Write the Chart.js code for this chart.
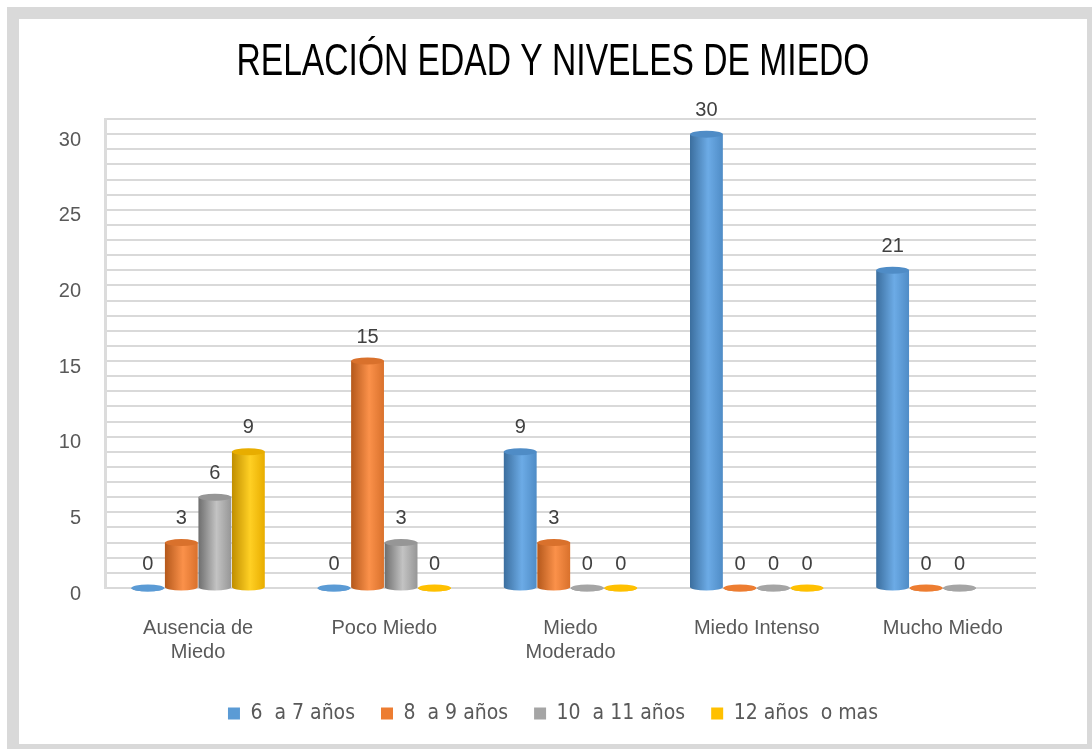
<!DOCTYPE html>
<html>
<head>
<meta charset="utf-8">
<script src="https://cdn.jsdelivr.net/npm/chart.js@4.4.0/dist/chart.umd.min.js"></script>
<style>
  html, body { margin: 0; padding: 0; background: #fff; }
  #frame { position: absolute; left: 7px; top: 7px; width: 1085px; height: 742px; background: #d9d9d9; }
  #box { position: absolute; left: 12px; top: 12px; width: 1068px; height: 725px; background: #fff; }
  canvas { display: block; }
</style>
</head>
<body>
<div id="frame"><div id="box"><canvas id="chart" width="1068" height="725"></canvas></div></div>
<script>
// datos
const categorias = [["Ausencia de", "Miedo"], "Poco Miedo", ["Miedo", "Moderado"], "Miedo Intenso", "Mucho Miedo"];
const edad6a7   = [0, 0, 9, 30, 21];
const edad8a9   = [3, 15, 3, 0, 0];
const edad10a11 = [6, 3, 0, 0, 0];
const edad12    = [9, 0, 0, 0, null];
const series = ["6  a 7 años", "8  a 9 años", "10  a 11 años", "12 años  o mas"];
const titulo = "RELACIÓN EDAD Y NIVELES DE MIEDO";

// colores del cilindro: [oscuro, claro, medio]
const tonos = [
  ["#3b6e9e", "#6cabe6", "#4f8cc6"],
  ["#b4581b", "#fb914a", "#d9712c"],
  ["#6e6e6e", "#c3c3c3", "#969696"],
  ["#c08e00", "#ffd024", "#e8ad00"]
];
const planos = ["#5b9bd5", "#ed7d31", "#a5a5a5", "#ffc000"];

const textoGris = "#595959";
const fuente = "'Liberation Sans', Arial, sans-serif";
const fuenteNarrow = "'Liberation Sans Narrow', 'DejaVu Sans Condensed', sans-serif";

// título estrecho (la fuente original es condensada)
const tituloAngosto = {
  id: 'tituloAngosto',
  afterDraw(chart) {
    const ctx = chart.ctx;
    ctx.save();
    ctx.font = "45px " + fuente;
    const w = ctx.measureText(titulo).width;
    ctx.translate(534, 56);
    ctx.scale(633 / w, 1);
    ctx.fillStyle = "#000";
    ctx.textAlign = "center";
    ctx.textBaseline = "alphabetic";
    ctx.fillText(titulo, 0, 0);
    ctx.restore();
  }
};

// degradado horizontal por barra + tapas + etiquetas
const cilindro = {
  id: 'cilindro',
  beforeDatasetsDraw(chart) {
    const ctx = chart.ctx;
    chart.data.datasets.forEach((ds, i) => {
      chart.getDatasetMeta(i).data.forEach(el => {
        const x0 = el.x - el.width / 2, x1 = el.x + el.width / 2;
        const g = ctx.createLinearGradient(x0, 0, x1, 0);
        g.addColorStop(0, tonos[i][0]);
        g.addColorStop(0.55, tonos[i][1]);
        g.addColorStop(1, tonos[i][2]);
        el.options.backgroundColor = g;
      });
    });
  },
  afterDatasetsDraw(chart) {
    const ctx = chart.ctx;
    ctx.save();
    chart.data.datasets.forEach((ds, i) => {
      chart.getDatasetMeta(i).data.forEach((el, j) => {
        if (ds.data[j] === null) return;
        const rx = el.width / 2;
        ctx.beginPath();
        ctx.ellipse(el.x, el.base, rx, 3.5, 0, 0, Math.PI);
        ctx.fillStyle = el.options.backgroundColor;
        ctx.fill();
        ctx.beginPath();
        ctx.ellipse(el.x, el.y, rx, 3.5, 0, 0, Math.PI * 2);
        ctx.fillStyle = ds.data[j] === 0 ? planos[i] : tonos[i][2];
        ctx.fill();
        ctx.fillStyle = "#404040";
        ctx.font = "20px " + fuente;
        ctx.textAlign = "center";
        ctx.textBaseline = "bottom";
        ctx.fillText(ds.data[j], el.x, el.y - 14);
      });
    });
    ctx.restore();
  }
};

const valores = [edad6a7, edad8a9, edad10a11, edad12];

new Chart(document.getElementById("chart"), {
  type: "bar",
  data: {
    labels: categorias,
    datasets: valores.map((v, i) => ({
      label: series[i],
      data: v,
      backgroundColor: () => planos[i],
      borderWidth: 0,
      barPercentage: 0.98,
      categoryPercentage: 0.72
    }))
  },
  options: {
    responsive: false,
    animation: false,
    layout: { padding: { left: 0, right: 0, top: 100, bottom: 10 } },
    plugins: {
      title: { display: false },
      legend: {
        position: "bottom",
        labels: {
          color: textoGris,
          font: { family: fuenteNarrow, size: 21 },
          boxWidth: 12,
          boxHeight: 12,
          padding: 26,
          generateLabels(chart) {
            return chart.data.datasets.map((d, i) => ({
              text: d.label, fillStyle: planos[i], strokeStyle: planos[i],
              lineWidth: 0, fontColor: textoGris, datasetIndex: i
            }));
          }
        }
      },
      tooltip: { enabled: false }
    },
    scales: {
      x: {
        grid: { display: false },
        border: { display: false },
        afterFit(scale) { scale.height -= 7; },
        ticks: { color: textoGris, font: { family: fuente, size: 20 }, padding: 20, maxRotation: 0 }
      },
      y: {
        min: 0,
        max: 31,
        afterFit(scale) { scale.width = 86; },
        grid: { color: "#d9d9d9", lineWidth: 2, drawTicks: false },
        border: { display: true, color: "#dcdcdc", width: 3 },
        ticks: {
          stepSize: 1,
          autoSkip: false,
          color: textoGris,
          font: { family: fuente, size: 20 },
          padding: 24,
          labelOffset: 6,
          callback: v => (v % 5 === 0 && v <= 30) ? v : ""
        }
      },
      margenDerecho: {
        type: "linear",
        position: "right",
        afterFit(scale) { scale.width = 51; },
        grid: { display: false, drawTicks: false },
        border: { display: false },
        ticks: { display: false }
      }
    }
  },
  plugins: [cilindro, tituloAngosto]
});
</script>
</body>
</html>
